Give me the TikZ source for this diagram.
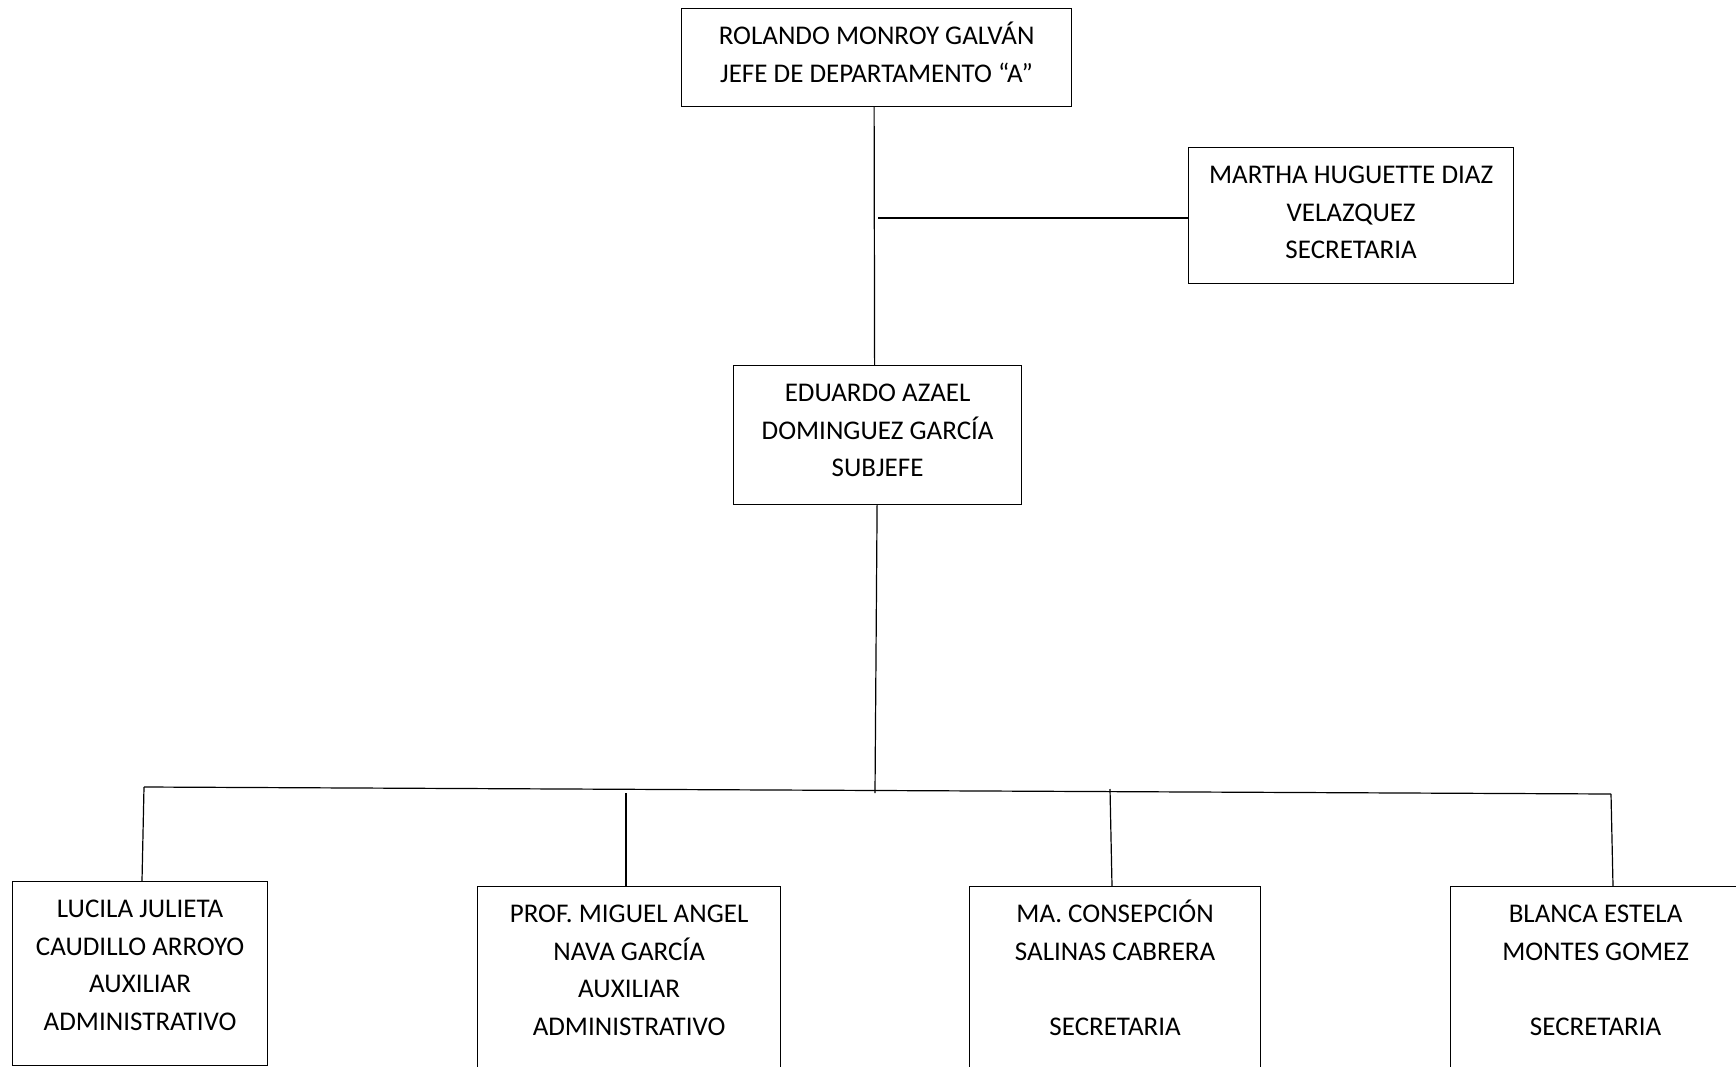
\documentclass[tikz,border=0pt]{standalone}
\usepackage{fontspec}
\setmainfont{Carlito}
\newcommand{\lowbox}[3]{\parbox[t][#2pt][t]{#1pt}{\centering\rule{0pt}{36pt}#3}}
\begin{document}
\begin{tikzpicture}[x=1pt,y=-1pt]
\clip (0,0) rectangle (1736,1067);

\tikzstyle{every node}+=[draw,font=\fontsize{27}{37.5}\selectfont]
\tikzstyle{every path}+=[line width=1.2pt]
\tikzstyle{low}=[anchor=north west,inner sep=0pt]

\node[low] (jefe) at (681,8)
  {\lowbox{390}{98}{ROLANDO MONROY GALVÁN\\JEFE DE DEPARTAMENTO “A”}};
\node[low] (secre) at (1188,147)
  {\lowbox{325}{136}{MARTHA HUGUETTE DIAZ\\VELAZQUEZ\\SECRETARIA}};
\node[low] (subjefe) at (733,365)
  {\lowbox{288}{139}{EDUARDO AZAEL\\DOMINGUEZ GARCÍA\\SUBJEFE}};

\node[low] (lucila) at (12,881)
  {\lowbox{255}{184}{LUCILA JULIETA\\CAUDILLO ARROYO\\AUXILIAR\\ADMINISTRATIVO}};
\node[low] (miguel) at (477,886)
  {\lowbox{303}{200}{PROF. MIGUEL ANGEL\\NAVA GARCÍA\\AUXILIAR\\ADMINISTRATIVO}};
\node[low] (ma) at (969,886)
  {\lowbox{291}{200}{MA. CONSEPCIÓN\\SALINAS CABRERA\\[37.5pt]SECRETARIA}};
\node[low] (blanca) at (1450,886)
  {\lowbox{290}{200}{BLANCA ESTELA\\MONTES GOMEZ\\[37.5pt]SECRETARIA}};

\coordinate (m) at (878,218);
\coordinate (busl) at (144,787);
\coordinate (busr) at (1611,794);
\coordinate (busc) at (875,793);
\coordinate (d2) at (626,793);
\coordinate (d3) at (1110,789);

\draw ([xshift=-2.5pt]jefe.south) -- ([xshift=-3pt]subjefe.north);
\draw (m) -- (m -| secre.west);
\draw (subjefe) -- (busc);
\draw (busl) -- (busr);
\draw (busl) -- (142,881);
\draw (d2) -- (d2 |- miguel.north);
\draw (d3) -- (1112,886);
\draw (busr) -- (1613,886);
\end{tikzpicture}
\end{document}
